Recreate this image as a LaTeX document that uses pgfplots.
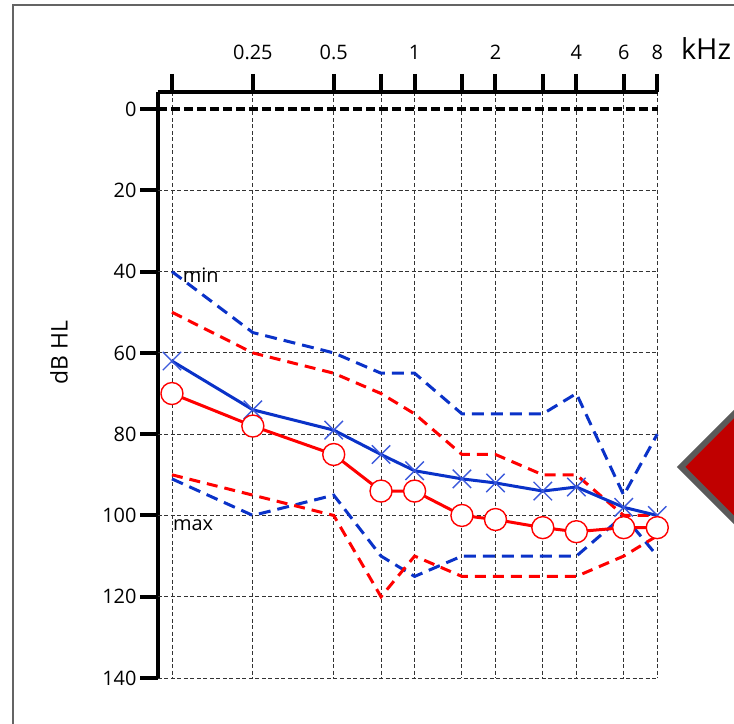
\documentclass[border=0pt]{standalone}
\usepackage{fontspec}
\setmainfont{Open Sans}
\usepackage{pgfplots}
\pgfplotsset{compat=1.18}

\definecolor{rd}{RGB}{255,0,0}
\definecolor{bl}{RGB}{10,50,200}
\definecolor{blx}{RGB}{60,90,220}
\definecolor{framegray}{RGB}{100,100,100}
\definecolor{dred}{RGB}{192,0,0}
\definecolor{dgray}{RGB}{90,90,90}

\begin{document}
\begin{tikzpicture}
\path[use as bounding box] (0,0) rectangle (734bp,724bp);
\begin{scope}
  \clip (0,0) rectangle (734bp,724bp);
  \draw[framegray, line width=2bp] (13bp,-20bp) -- (13bp,719bp) -- (760bp,719bp);
  \draw[dgray, line width=6bp, fill=dred, line join=miter]
    (681bp,257bp) -- (781bp,357bp) -- (881bp,257bp) -- (781bp,157bp) -- cycle;
\end{scope}

\begin{axis}[
  at={(158bp,46bp)}, anchor=south west,
  scale only axis, width=500bp, height=586bp,
  xmode=log, log basis x=2,
  xmin=0.1109, xmax=8.05,
  ymin=-4.2, ymax=140, y dir=reverse,
  axis x line*=top, axis y line*=left,
  axis line style={line width=3.5bp, black},
  xtick={0.125,0.25,0.5,0.75,1,1.5,2,3,4,6,8},
  xticklabels={,0.25,0.5,,1,,2,,4,6,8},
  minor xtick={},
  ytick={0,20,...,140},
  tick align=outside,
  major tick length=18bp,
  tick style={line width=4bp, black},
  xmajorgrids=true,
  extra y ticks={20,40,...,140},
  extra y tick labels={},
  extra y tick style={grid=major, tick style={draw=none}},
  grid style={black!80, line width=0.9bp, dash pattern=on 4bp off 2.5bp},
  tick label style={font=\fontsize{20}{23}\selectfont},
  xticklabel style={yshift=11bp},
  /pgf/number format/assume math mode=true,
  ylabel={dB HL},
  ylabel style={at={(axis description cs:-0.198,0.555)}, anchor=center, font=\fontsize{23}{26}\selectfont},
  clip=false,
]
\draw[black, line width=3.3bp, dash pattern=on 9bp off 4bp] (axis cs:0.1109,0) -- (axis cs:8.05,0);

% min / max ranges
\addplot[bl, line width=3bp, dash pattern=on 12bp off 7bp] coordinates {
(0.125,40) (0.25,55) (0.5,60) (0.75,65) (1,65) (1.5,75) (2,75) (3,75) (4,70) (6,95) (8,80)};
\addplot[bl, line width=3bp, dash pattern=on 12bp off 7bp] coordinates {
(0.125,91) (0.25,100) (0.5,95) (0.75,110) (1,115) (1.5,110) (2,110) (3,110) (4,110) (6,100) (8,110)};
\addplot[rd, line width=3bp, dash pattern=on 11bp off 7bp] coordinates {
(0.125,50) (0.25,60) (0.5,65) (0.75,70) (1,75) (1.5,85) (2,85) (3,90) (4,90) (6,100) (8,100)};
\addplot[rd, line width=3bp, dash pattern=on 11bp off 7bp] coordinates {
(0.125,90) (0.25,95) (0.5,100) (0.75,120) (1,110) (1.5,115) (2,115) (3,115) (4,115) (6,110) (8,105)};

% means
\addplot[bl, line width=3bp, mark=x, mark size=13bp, mark options={blx, line width=1.4bp, solid}] coordinates {
(0.125,62) (0.25,74) (0.5,79) (0.75,85) (1,89) (1.5,91) (2,92) (3,94) (4,93) (6,98) (8,100)};
\addplot[rd, line width=3bp, mark=*, mark size=11bp, mark options={draw=rd, fill=white, line width=1.4bp, solid}] coordinates {
(0.125,70) (0.25,78) (0.5,85) (0.75,94) (1,94) (1.5,100) (2,101) (3,103) (4,104) (6,103) (8,103)};

\node[anchor=base west, inner sep=0pt, font=\fontsize{20}{22}\selectfont] at (axis cs:0.137,42.6) {min};
\node[anchor=base west, inner sep=0pt, font=\fontsize{20}{22}\selectfont] at (axis cs:0.126,103.8) {max};
\end{axis}

\node[font=\fontsize{29}{32}\selectfont] at (706bp,675bp) {kHz};
\end{tikzpicture}
\end{document}
